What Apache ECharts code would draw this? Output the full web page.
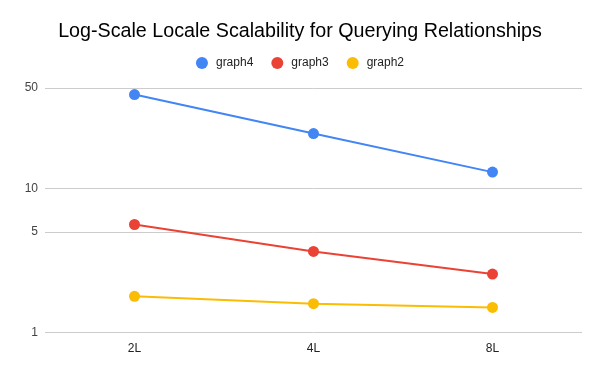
<!DOCTYPE html>
<html>
<head>
<meta charset="utf-8">
<script src="https://cdn.jsdelivr.net/npm/echarts@6/dist/echarts.min.js"></script>
<style>html,body{margin:0;padding:0;background:#fff}#c{width:600px;height:371px}</style>
</head>
<body>
<div id="c"></div>
<script>
const categories = ['2L', '4L', '8L'];
const graph4 = [45.0, 24.1, 13.0];
const graph3 = [5.62, 3.65, 2.54];
const graph2 = [1.78, 1.58, 1.49];
const yTicks = [1, 5, 10, 50];
const seriesNames = ['graph4', 'graph3', 'graph2'];
const colors = ['#4285F4', '#EA4335', '#FBBC04'];

const font = 'Arial, "Liberation Sans", sans-serif';
const chart = echarts.init(document.getElementById('c'), null, {renderer: 'canvas'});
const mk = (name, data, color) => ({
  name, type: 'line', data,
  symbol: 'circle', symbolSize: 11,
  lineStyle: {width: 2, color},
  itemStyle: {color},
  emphasis: {disabled: true}
});
chart.setOption({
  animation: false,
  title: {
    text: 'Log-Scale Locale Scalability for Querying Relationships',
    left: 'center', top: 17,
    textStyle: {fontFamily: font, fontSize: 19.7, fontWeight: 'normal', color: '#000'}
  },
  legend: {
    top: 52, left: 'center',
    icon: 'circle', itemWidth: 18, itemHeight: 12, itemGap: 18,
    textStyle: {fontFamily: font, fontSize: 12, color: '#222'},
    data: seriesNames
  },
  grid: {left: 45, right: 18, top: 88, bottom: 38.7, containLabel: false},
  xAxis: {
    type: 'category', data: categories, boundaryGap: true,
    axisLine: {show: false}, axisTick: {show: false},
    axisLabel: {fontFamily: font, fontSize: 12, color: '#222', margin: 10}
  },
  yAxis: {
    type: 'log', logBase: 10, min: 1, max: 50,
    axisLine: {show: false},
    axisTick: {show: false, customValues: yTicks},
    axisLabel: {customValues: yTicks, fontFamily: font, fontSize: 12, color: '#444', margin: 7},
    splitLine: {show: true, lineStyle: {color: '#cccccc', width: 1}}
  },
  series: [
    mk(seriesNames[0], graph4, colors[0]),
    mk(seriesNames[1], graph3, colors[1]),
    mk(seriesNames[2], graph2, colors[2])
  ]
});
</script>
</body>
</html>
